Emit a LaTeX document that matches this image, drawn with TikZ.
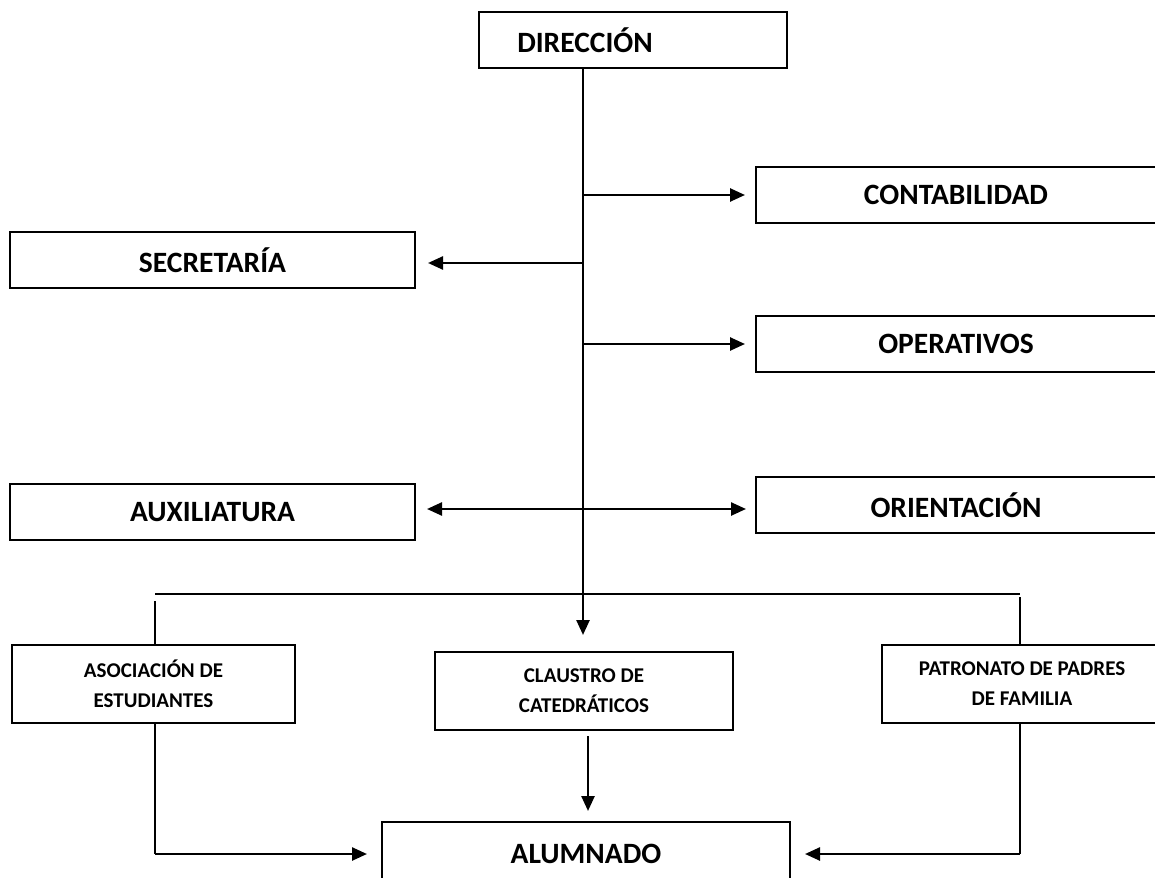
\documentclass[tikz,border=0pt]{standalone}
\usepackage{fontspec}
\setmainfont{Carlito}
\usetikzlibrary{arrows.meta,positioning}
\begin{document}
\begin{tikzpicture}[x=1pt,y=-1pt,
  box/.style={draw,line width=2pt,inner sep=0pt,font=\bfseries\fontsize{29.5}{33}\selectfont},
  sbox/.style={draw,line width=2pt,inner sep=0pt,align=center,font=\bfseries\fontsize{21}{30}\selectfont},
  arr/.style={line width=2.5pt,-{Triangle[length=15pt,width=13pt]}},
  darr/.style={line width=2.5pt,{Triangle[length=15pt,width=13pt]}-{Triangle[length=15pt,width=13pt]}},
  thin/.style={line width=1.3pt}]
\useasboundingbox (0,0) rectangle (1155,877);
\clip (0,0) rectangle (1155,877);
% boxes
\node[box,minimum width=308pt,minimum height=56pt] (dir) at (633,40) {DIRECCIÓN\kern96pt};
\node[box,minimum width=410pt,minimum height=56pt] (cont) at (961,195) {CONTABILIDAD\kern10pt};
\node[box,minimum width=405pt,minimum height=56pt] (sec) at (212.5,260) {SECRETARÍA};
\node[box,minimum width=410pt,minimum height=56pt] (oper) at (961,344) {OPERATIVOS\kern10pt};
\node[box,minimum width=405pt,minimum height=56pt] (aux) at (212.5,512) {AUXILIATURA};
\node[box,minimum width=410pt,minimum height=56pt] (ori) at (961,505) {ORIENTACIÓN\kern10pt};
\node[sbox,minimum width=283pt,minimum height=78pt] (asoc) at (153.5,684) {ASOCIACIÓN DE\\ESTUDIANTES};
\node[sbox,minimum width=298pt,minimum height=78pt] (claus) at (584,691) {CLAUSTRO DE\\CATEDRÁTICOS};
\node[sbox,minimum width=280pt,minimum height=78pt] (pat) at (1022,684) {PATRONATO DE PADRES\\DE FAMILIA};
\node[box,minimum width=408pt,minimum height=64pt] (alum) at (586,854) {ALUMNADO};
% trunk
\coordinate (top) at (583,68);
\coordinate (bot) at (583,652);
\draw[arr,shorten >=17pt] (dir.south -| top) -- (bot);
\coordinate (tc) at (583,195);
\coordinate (ts) at (583,263);
\coordinate (to) at (583,344);
\coordinate (ta) at (583,509);
\draw[arr,shorten >=10pt] (tc) -- (cont.west |- tc);
\draw[arr,shorten >=12pt] (ts) -- (sec.east |- ts);
\draw[arr,shorten >=10pt] (to) -- (oper.west |- to);
\coordinate (al) at (415,509);
\coordinate (ar) at (756,509);
\draw[darr,shorten <=12pt,shorten >=10pt] (al) -- (ar);
% lower distribution
\coordinate (hl) at (155,594);
\coordinate (hr) at (1020,594);
\draw[thin] (hl) -- (hr);
\draw[thin] (155,601) -- (asoc.north -| hl);
\draw[thin] (1020,597) -- (pat.north -| hr);
% to alumnado
\coordinate (cl) at (155,854);
\coordinate (cr) at (1020,854);
\draw[thin] (asoc.south -| cl) -- (cl);
\draw[arr,shorten >=14pt] (cl) -- (alum.west |- cl);
\draw[thin] (pat.south -| cr) -- (cr);
\draw[arr,shorten >=14pt] (cr) -- (alum.east |- cr);
\coordinate (cc) at (588,730);
\draw[arr,shorten <=6pt,shorten >=10pt] (cc) -- (alum.north -| cc);
\end{tikzpicture}
\end{document}
